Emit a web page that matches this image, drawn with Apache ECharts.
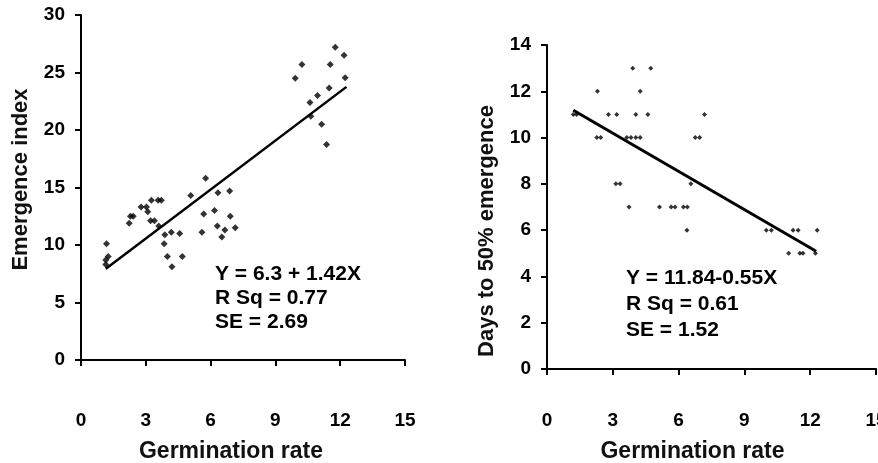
<!DOCTYPE html>
<html style="height:100%;">
<head>
    <meta charset="utf-8">
    <script src="https://cdn.jsdelivr.net/npm/echarts@6/dist/echarts.min.js"></script>
</head>
<body style="height:100%;margin:0;">
    <div id="main" style="width:878px;height:463px;"></div>
<script>
    // left panel: germination rate vs emergence index
    var eiX = [1.18, 1.26, 1.15, 1.15, 2.23, 2.29, 2.42, 2.78, 3.03, 3.09, 3.26, 3.57, 3.72, 3.22, 3.4, 3.6,
        3.88, 3.85, 4.0, 4.18, 4.21, 4.57, 4.69, 5.08, 5.77, 5.68, 5.6, 6.34, 6.18, 6.31, 6.52, 6.66,
        6.88, 6.91, 7.14, 9.92, 10.23, 10.6, 10.64, 10.95, 11.14, 11.37, 11.49, 11.54, 11.77, 12.18, 12.23];
    var eiY = [10.1, 9.0, 8.7, 8.3, 11.9, 12.5, 12.5, 13.3, 13.3, 12.9, 13.9, 13.9, 13.9, 12.1, 12.1, 11.65,
        10.9, 10.1, 9.0, 11.1, 8.1, 11.0, 9.0, 14.3, 15.8, 12.7, 11.1, 14.55, 13.0, 11.65, 10.7, 11.3,
        14.7, 12.5, 11.5, 24.5, 25.7, 22.4, 21.2, 23.0, 20.5, 18.75, 23.65, 25.7, 27.2, 26.5, 24.55];
    var eiFitX = [1.15, 12.29];
    var eiFitY = [7.93, 23.75];

    // right panel: germination rate vs days to 50% emergence
    var deX = [1.2, 1.35, 2.3, 2.27, 2.45, 2.8, 3.18, 3.14, 3.33, 3.74, 3.64, 3.83, 3.91, 4.05, 4.05, 4.25,
        4.25, 4.6, 4.73, 5.13, 5.66, 5.84, 6.22, 6.4, 6.38, 6.56, 6.76, 6.96, 7.18,
        10.0, 10.23, 11.22, 11.45, 12.32, 11.02, 11.53, 11.67, 12.24];
    var deY = [11, 11, 12, 10, 10, 11, 11, 8, 8, 7, 10, 10, 13, 11, 10, 10,
        12, 11, 13, 7, 7, 7, 7, 7, 6, 8, 10, 10, 11,
        6, 6, 6, 6, 6, 5, 5, 5, 5];
    var deFitX = [1.2, 12.27];
    var deFitY = [11.18, 5.09];

    var notesLeft = ['Y = 6.3 + 1.42X', 'R Sq = 0.77', 'SE = 2.69'];
    var notesRight = ['Y = 11.84-0.55X', 'R Sq = 0.61', 'SE = 1.52'];

    function pairs(xs, ys) {
        return xs.map(function (x, i) { return [x, ys[i]]; });
    }

    var font = "'Liberation Sans', Arial, sans-serif";
    var black = '#000';

    function xAxisCfg(idx, margin, gap, pad) {
        return {
            gridIndex: idx, type: 'value', min: 0, max: 15, interval: 3,
            name: 'Germination rate', nameLocation: 'middle', nameGap: gap,
            nameTextStyle: { fontFamily: font, fontWeight: 'bold', fontSize: 23, color: '#111', padding: pad },
            axisLine: { show: true, onZero: false, lineStyle: { color: black, width: 2 } },
            axisTick: { show: true, inside: false, length: 6, lineStyle: { color: black, width: 2 } },
            axisLabel: { fontFamily: font, fontWeight: 'bold', fontSize: 19, color: black, margin: margin },
            splitLine: { show: false }
        };
    }
    function yAxisCfg(idx, max, step, name, gap, pad) {
        return {
            gridIndex: idx, type: 'value', min: 0, max: max, interval: step,
            name: name, nameLocation: 'middle', nameGap: gap,
            nameTextStyle: { fontFamily: font, fontWeight: 'bold', fontSize: 22, color: '#111', padding: pad },
            axisLine: { show: true, lineStyle: { color: black, width: 2 } },
            axisTick: { show: true, length: 6, lineStyle: { color: black, width: 2 } },
            axisLabel: { fontFamily: font, fontWeight: 'bold', fontSize: 19, color: black, margin: 16 },
            splitLine: { show: false }
        };
    }
    function note(lines, left, top, pitch) {
        return lines.map(function (t, i) {
            return {
                type: 'text', left: left, top: top + i * pitch,
                style: { text: t, fontFamily: font, fontWeight: 'bold', fontSize: 21, fill: black }
            };
        });
    }

    var chart = echarts.init(document.getElementById('main'));
    chart.setOption({
        backgroundColor: '#fff',
        animation: false,
        grid: [
            { left: 81, top: 15, width: 324, height: 345, outerBoundsMode: 'none' },
            { left: 547, top: 45, width: 329, height: 324, outerBoundsMode: 'none' }
        ],
        xAxis: [xAxisCfg(0, 51, 80, [0, 24, 0, 0]), xAxisCfg(1, 42, 71, [0, 38, 0, 0])],
        yAxis: [
            yAxisCfg(0, 30, 5, 'Emergence index', 49, [0, 0, 0, 16]),
            yAxisCfg(1, 14, 2, 'Days to 50% emergence', 49, [0, 48, 0, 0])
        ],
        graphic: note(notesLeft, 215, 264, 24).concat(note(notesRight, 626, 268, 26)),
        series: [
            {
                type: 'scatter', xAxisIndex: 0, yAxisIndex: 0, symbol: 'diamond', symbolSize: 7,
                itemStyle: { color: black }, data: pairs(eiX, eiY)
            },
            {
                type: 'line', xAxisIndex: 0, yAxisIndex: 0, symbol: 'none',
                lineStyle: { color: black, width: 2.5 }, data: pairs(eiFitX, eiFitY)
            },
            {
                type: 'scatter', xAxisIndex: 1, yAxisIndex: 1, symbol: 'diamond', symbolSize: 5,
                itemStyle: { color: black }, data: pairs(deX, deY)
            },
            {
                type: 'line', xAxisIndex: 1, yAxisIndex: 1, symbol: 'none',
                lineStyle: { color: black, width: 3 }, data: pairs(deFitX, deFitY)
            }
        ]
    });
</script>
</body>
</html>
